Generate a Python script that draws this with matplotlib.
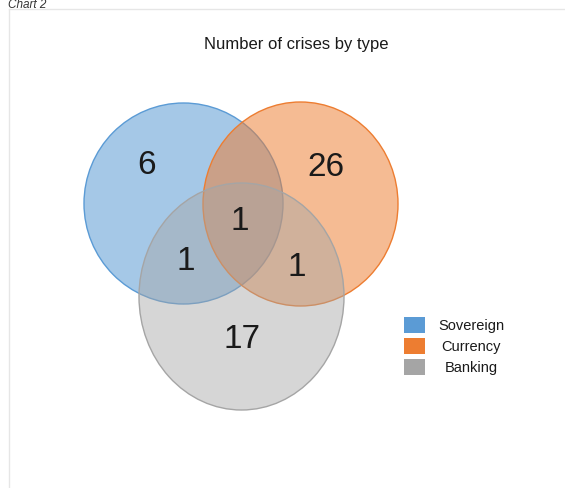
import matplotlib.pyplot as plt
from matplotlib.patches import Ellipse, Rectangle

plt.rcParams['font.family'] = ['Liberation Sans', 'DejaVu Sans']

# data
sets = ['Sovereign', 'Currency', 'Banking']
edge_colors = ['#5b9bd5', '#ed7d31', '#a5a5a5']
fill_alpha = [0.55, 0.52, 0.45]
# region counts: only sovereign, only currency, only banking, sov+bank, cur+bank, all three
region_labels = ['6', '26', '17', '1', '1', '1']

title = 'Number of crises by type'

fig = plt.figure(figsize=(5.65, 4.89), dpi=100)
ax = fig.add_axes([0, 0, 1, 1])
ax.set_xlim(0, 565)
ax.set_ylim(489, 0)
ax.axis('off')

# frame lines of the page
ax.plot([9, 565], [10, 10], color='#e6e6e6', lw=1)
ax.plot([9, 9], [10, 489], color='#e6e6e6', lw=1)
ax.text(8, 5, 'Chart 2', fontsize=8.5, style='italic', color='#333333', ha='left', va='center')

# circles (center x, center y, width, height) in pixel coords
shapes = [(183.5, 204.5, 199, 201), (300.5, 205, 195, 204), (241.5, 297.5, 205, 227)]
for (cx, cy, w, h), col, a in zip(shapes, edge_colors, fill_alpha):
    ax.add_patch(Ellipse((cx, cy), w, h, facecolor=col, alpha=a, edgecolor='none'))
    ax.add_patch(Ellipse((cx, cy), w, h, facecolor='none', edgecolor=col, lw=1))

label_pos = [(147, 165), (326, 167), (242, 339), (186, 262), (297, 267), (240, 221)]
for (x, y), lab in zip(label_pos, region_labels):
    ax.text(x, y, lab, fontsize=24, ha='center', va='center', color='#1a1a1a')

ax.text(296, 45, title, fontsize=12, ha='center', va='center', color='#1a1a1a')

# legend
leg_y = [326, 347, 368]
for y, col, name in zip(leg_y, edge_colors, sets):
    ax.add_patch(Rectangle((404, y - 8), 21, 16, facecolor=col, edgecolor='none'))
    ax.text(471, y, name, fontsize=10.5, ha='center', va='center', color='#1a1a1a')

fig.savefig('out.png', dpi=100)
